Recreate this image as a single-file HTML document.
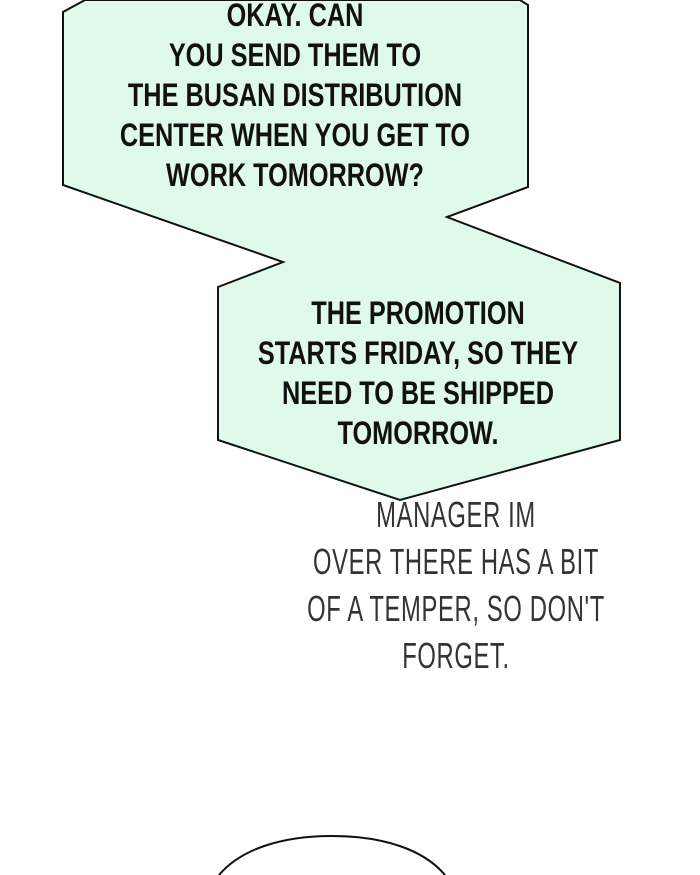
<!DOCTYPE html>
<html style="overflow:hidden;width:700px;height:875px"><head><style>
body{margin:0;width:700px;height:875px;background:#fff;overflow:hidden;position:relative;font-family:"Liberation Sans",sans-serif}
.t{position:absolute;text-align:center;white-space:nowrap}
.b{font-size:32px;line-height:40px;color:#111;font-weight:bold;transform:scaleX(0.79);}
.c{font-size:36px;line-height:47px;color:#333;font-weight:normal;transform:scaleX(0.66);letter-spacing:1px}
</style></head><body>
<svg width="700" height="875" style="position:absolute;left:0;top:0">
<polygon points="85,0 63,12 63,185 283,262 218,287 218,440 400,500 620,440 620,283 447,217 528,187 528,5 520,0" fill="#dffaeb" stroke="#111" stroke-width="2"/>
<path d="M219,875 C240,850 280,836 332,836 C384,836 424,850 445,875" fill="#fff" stroke="#111" stroke-width="2"/>
</svg>
<div class="t b" style="top:-5px;left:0;width:590px">OKAY. CAN<br>YOU SEND THEM TO<br>THE BUSAN DISTRIBUTION<br>CENTER WHEN YOU GET TO<br>WORK TOMORROW?</div>
<div class="t b" style="top:293px;left:136px;width:564px">THE PROMOTION<br>STARTS FRIDAY, SO THEY<br>NEED TO BE SHIPPED<br>TOMORROW.</div>
<div class="t c" style="top:491px;left:212px;width:488px">MANAGER IM<br>OVER THERE HAS A BIT<br>OF A TEMPER, SO DON'T<br>FORGET.</div>
</body></html>
